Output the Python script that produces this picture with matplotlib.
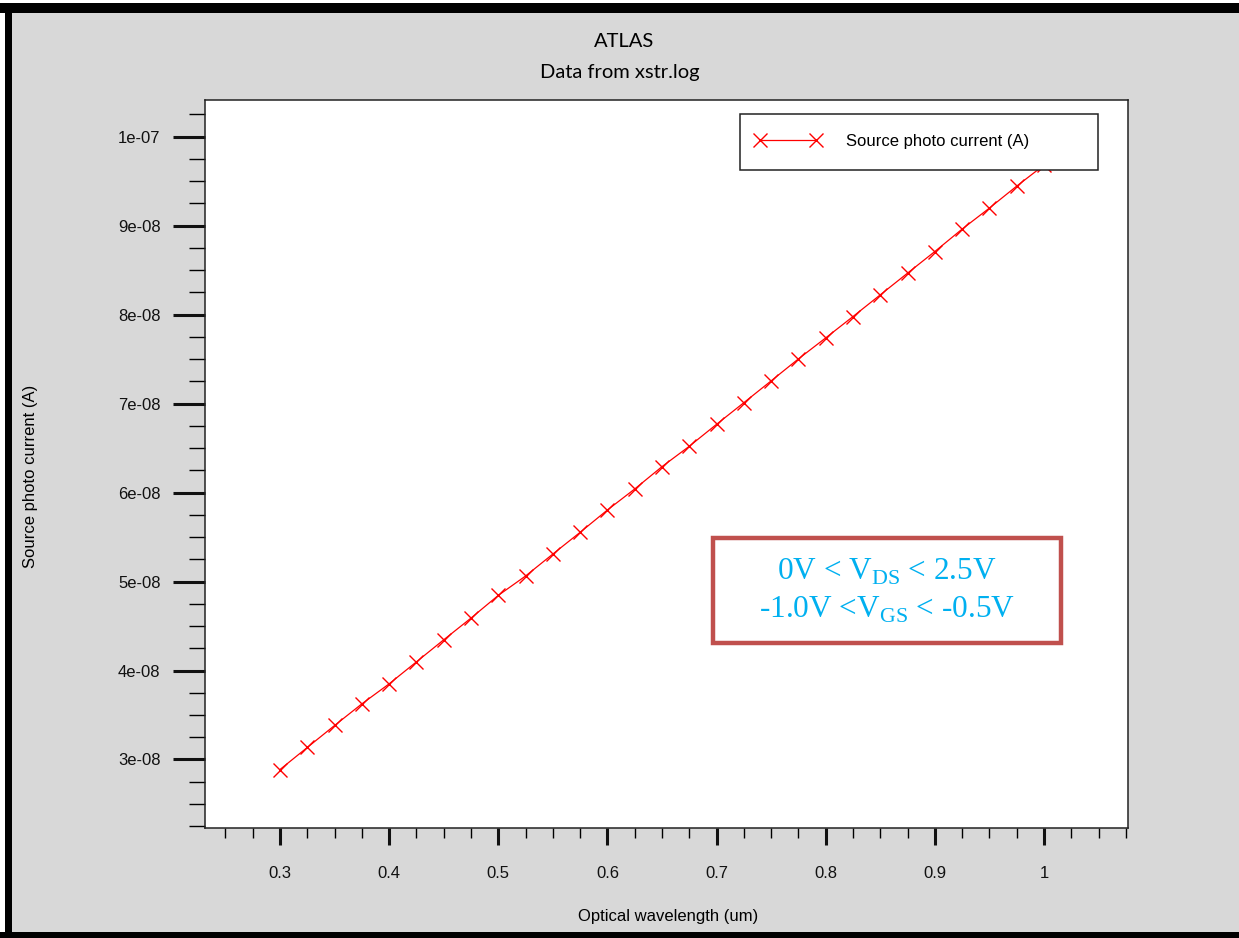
import numpy as np
import matplotlib
matplotlib.use("Agg")
import matplotlib.pyplot as plt
from matplotlib.patches import Rectangle
from matplotlib.ticker import MultipleLocator, FuncFormatter
from matplotlib.legend_handler import HandlerLine2D

plt.rcParams['font.family'] = ['Liberation Sans', 'DejaVu Sans']

# optical wavelength (um)
wavelength = [0.3, 0.325, 0.35, 0.375, 0.4, 0.425, 0.45, 0.475, 0.5, 0.525,
              0.55, 0.575, 0.6, 0.625, 0.65, 0.675, 0.7, 0.725, 0.75, 0.775,
              0.8, 0.825, 0.85, 0.875, 0.9, 0.925, 0.95, 0.975, 1.0]

# source photo current (A)
photo_current = [2.887e-8, 3.135e-8, 3.382e-8, 3.625e-8, 3.850e-8, 4.097e-8,
                 4.345e-8, 4.589e-8, 4.844e-8, 5.062e-8, 5.309e-8, 5.553e-8,
                 5.804e-8, 6.040e-8, 6.291e-8, 6.520e-8, 6.767e-8, 7.010e-8,
                 7.255e-8, 7.502e-8, 7.738e-8, 7.978e-8, 8.222e-8, 8.466e-8,
                 8.709e-8, 8.961e-8, 9.197e-8, 9.444e-8, 9.680e-8]

W, H = 1239, 938
grey = '#d8d8d8'

fig = plt.figure(figsize=(W / 100, H / 100), dpi=100, facecolor='white')


def px_rect(x0, y0, x1, y1, color):
    # rectangle given in pixels from top-left of the picture
    fig.patches.append(Rectangle((x0 / W, 1 - y1 / H), (x1 - x0) / W, (y1 - y0) / H,
                                 transform=fig.transFigure, facecolor=color,
                                 edgecolor='none', zorder=-10))


# window background and black frame
px_rect(12, 13, W, 932, grey)
px_rect(0, 3, W, 13, 'black')
px_rect(5, 3, 12, 932, 'black')
px_rect(0, 932, W, H, 'black')

ax = fig.add_axes([205 / W, 1 - 828 / H, (1128 - 205) / W, (828 - 100) / H])
ax.set_facecolor('white')

line, = ax.plot(wavelength, photo_current, color='#ff0000', lw=0.9,
                marker='x', markersize=10, mew=1.0,
                label='Source photo current (A)')

ax.set_xlim(0.2313, 1.077)
ax.set_ylim(2.23e-8, 1.0412e-7)

ax.xaxis.set_major_locator(MultipleLocator(0.1))
ax.xaxis.set_minor_locator(MultipleLocator(0.025))
ax.yaxis.set_major_locator(MultipleLocator(1e-8))
ax.yaxis.set_minor_locator(MultipleLocator(2.5e-9))
ax.xaxis.set_major_formatter(FuncFormatter(lambda v, p: '%g' % round(v, 3)))
ax.yaxis.set_major_formatter(FuncFormatter(lambda v, p: '%.0e' % v))

ax.tick_params(axis='x', which='major', direction='out', length=12, width=2.2,
               pad=15, labelsize=12, colors='#111111')
ax.tick_params(axis='x', which='minor', direction='out', length=7.5, width=1.0)
ax.tick_params(axis='y', which='major', direction='out', length=23, width=2.2,
               pad=9, labelsize=12, colors='#111111')
ax.tick_params(axis='y', which='minor', direction='out', length=11.5, width=1.0)
for sp in ax.spines.values():
    sp.set_linewidth(1.1)
    sp.set_color('#222222')

ax.set_xlabel('Optical wavelength (um)', fontsize=12, va='center')
ax.xaxis.set_label_coords((668 - 205) / 923, (828 - 916) / 728)
ax.set_ylabel('Source photo current (A)', fontsize=12, va='center')
ax.yaxis.set_label_coords((31 - 205) / 923, (828 - 476) / 728)

leg = ax.legend(handles=[line], loc='upper left', mode='expand',
                bbox_to_anchor=((740 - 205) / 923, 0, (1098 - 740) / 923, (828 - 114) / 728),
                borderaxespad=0, borderpad=1.22, handlelength=3.33, handletextpad=1.8,
                fontsize=12, fancybox=False, shadow=False, framealpha=1,
                edgecolor='#222222',
                handler_map={line: HandlerLine2D(numpoints=2, marker_pad=0)})
leg.get_frame().set_linewidth(1.1)

# titles
fig.text(624 / W, 1 - 46.7 / H, 'ATLAS', ha='center', va='baseline',
         fontsize=14.5, family=['Lato', 'DejaVu Sans'])
fig.text(620 / W, 1 - 78 / H, 'Data from xstr.log', ha='center', va='baseline',
         fontsize=14.5, family=['Lato', 'DejaVu Sans'])

# bias annotation box
ax.add_patch(Rectangle(((713 - 205) / 923, (828 - 643) / 728), 348 / 923, 105 / 728,
                       transform=ax.transAxes, facecolor='white', edgecolor='#c0504d',
                       lw=3.2, zorder=5))
cx = (887 - 205) / 923
ax.text(cx, (828 - 580) / 728, r'0V < V$_\mathregular{DS}$ < 2.5V', transform=ax.transAxes,
        ha='center', va='baseline', fontsize=22.5, color='#00b0f0',
        family=['Liberation Serif', 'DejaVu Serif'], zorder=6)
ax.text(cx, (828 - 618) / 728, r'-1.0V <V$_\mathregular{GS}$ < -0.5V', transform=ax.transAxes,
        ha='center', va='baseline', fontsize=22.5, color='#00b0f0',
        family=['Liberation Serif', 'DejaVu Serif'], zorder=6)

fig.savefig('out.png', dpi=100, facecolor=fig.get_facecolor())
